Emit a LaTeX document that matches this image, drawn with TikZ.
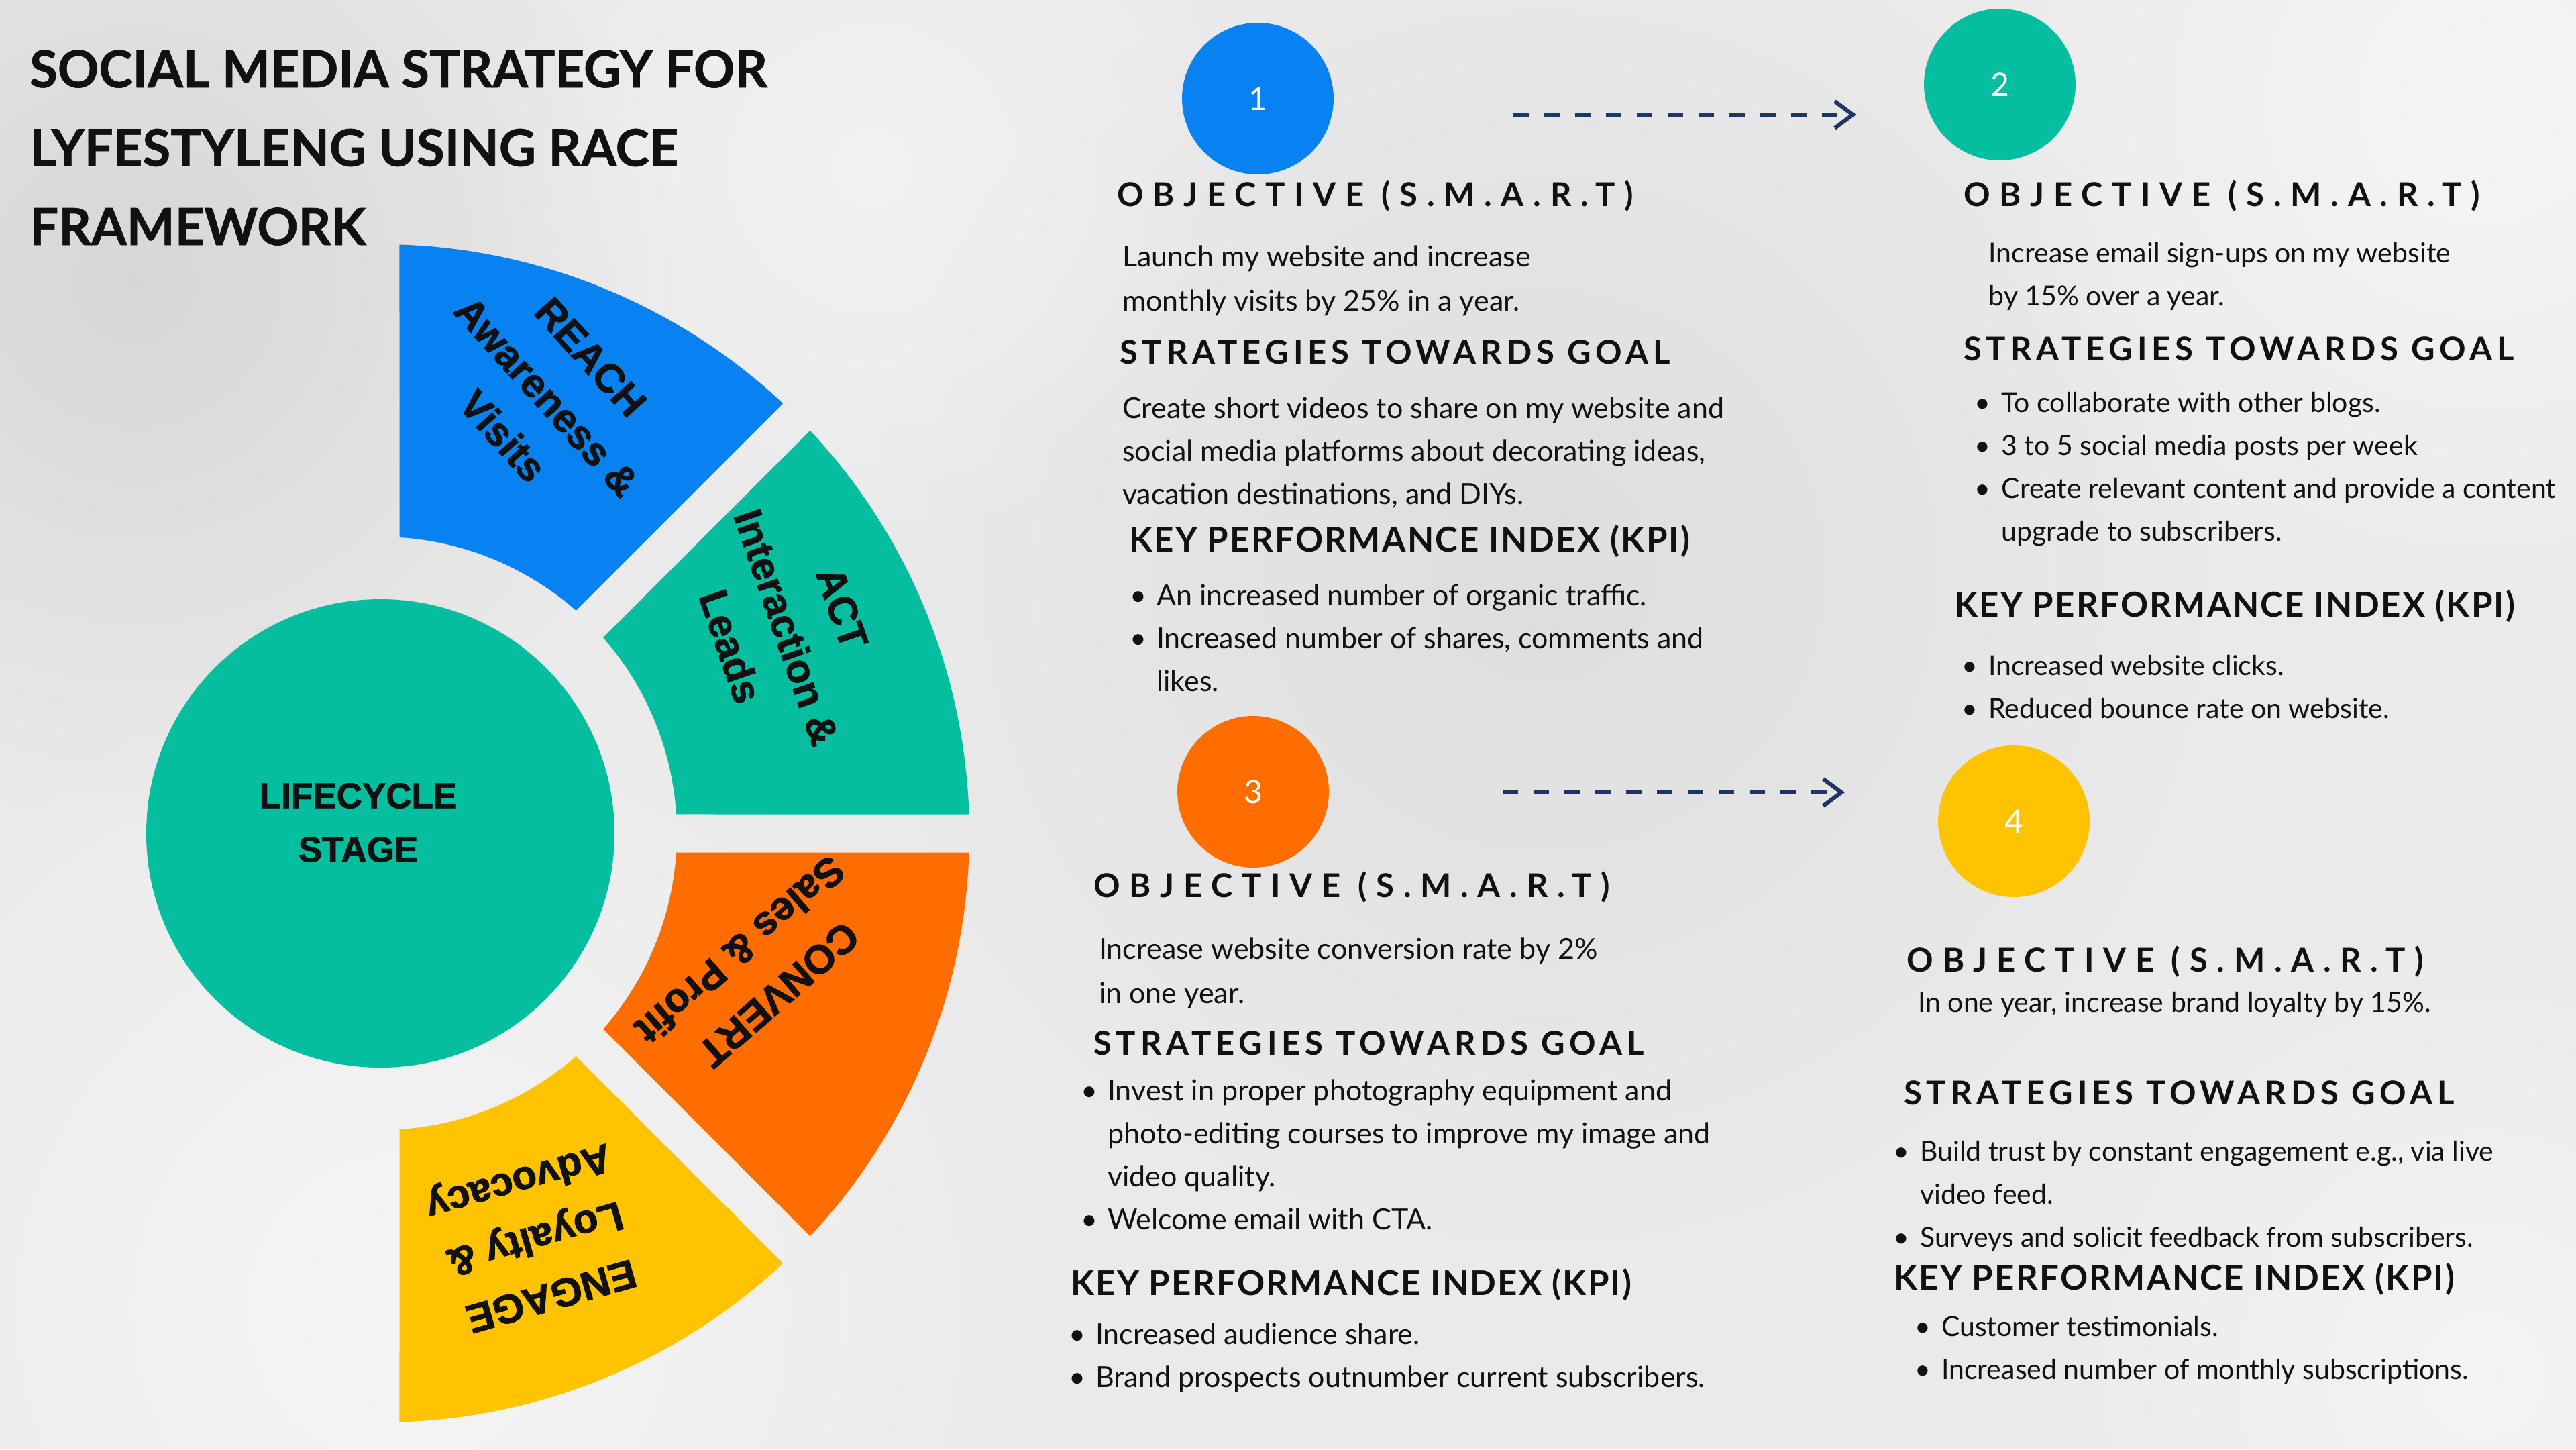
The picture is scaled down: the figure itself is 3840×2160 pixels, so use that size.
\documentclass[tikz,border=0pt]{standalone}
\usepackage{fontspec}
\setmainfont{Lato}
\newfontfamily\heavyfont{Liberation Sans}[BoldFeatures={FakeBold=1.6}]
\newfontfamily\titlefont{Lato}[BoldFeatures={FakeBold=0.8}]
\usetikzlibrary{arrows.meta,fadings}
\tikzfading[name=blobfade, inner color=transparent!0, outer color=transparent!100]
\definecolor{cblue}{RGB}{8,130,240}
\definecolor{cgreen}{RGB}{5,190,160}
\definecolor{corange}{RGB}{255,108,0}
\definecolor{cyellow}{RGB}{255,195,0}
\definecolor{navy}{RGB}{31,53,102}
\definecolor{ink}{RGB}{17,17,17}
\definecolor{bgbase}{RGB}{234,234,234}
\definecolor{bgdark}{RGB}{210,210,210}
\definecolor{bglight}{RGB}{247,247,247}
\newcommand\bitem{\makebox[31pt][l]{\hspace*{-9pt}\textbullet}}
\newcommand\bcont{\hspace*{31pt}}
\tikzset{
  wedgelabel/.style={inner sep=0pt, align=center, text=ink, font=\heavyfont\bfseries\fontsize{60}{88}\selectfont},
  numdisc/.style={circle, minimum size=226pt, inner sep=0pt, text=white, font=\fontsize{48}{48}\selectfont},
  titletext/.style={anchor=base west, inner sep=0pt, align=left, text=ink, font=\titlefont\bfseries\fontsize{76}{117.5}\selectfont},
  objhead/.style={anchor=base west, inner sep=0pt, text=ink, font=\bfseries\fontsize{49}{49}\selectfont\addfontfeature{LetterSpace=28}},
  stghead/.style={anchor=base west, inner sep=0pt, text=ink, font=\bfseries\fontsize{49}{49}\selectfont\addfontfeature{LetterSpace=14}},
  kpihead/.style={anchor=base west, inner sep=0pt, text=ink, font=\bfseries\fontsize{51}{51}\selectfont\addfontfeature{LetterSpace=4.5}},
  objA/.style={anchor=base west, inner sep=0pt, align=left, text=ink, font=\fontsize{43}{66}\selectfont},
  bodyA/.style={anchor=base west, inner sep=0pt, align=left, text=ink, font=\fontsize{43}{64}\selectfont},
  bodyB/.style={anchor=base west, inner sep=0pt, align=left, text=ink, font=\fontsize{41}{64}\selectfont},
  flow/.style={draw=navy, line width=6pt, dash pattern=on 23pt off 23pt, -{Straight Barb[length=27pt,width=40pt]}},
  blob/.style={path fading=blobfade},
}
\begin{document}
\begin{tikzpicture}[x=1pt, y=-1pt]
\useasboundingbox (0,0) rectangle (3840,2160);
% background
\fill[bgbase] (0,0) rectangle (3840,2160);
\fill[bgdark, blob, opacity=0.8] (200,420) circle[radius=800];
\fill[bgdark, blob, opacity=0.5] (2300,850) circle[radius=1000];
\fill[bglight, blob, opacity=0.9] (600,1950) circle[radius=1000];
\fill[bglight, blob, opacity=0.9] (3700,150) circle[radius=800];
\fill[bglight, blob, opacity=0.8] (3700,2050) circle[radius=700];
\fill[bglight, blob, opacity=0.6] (1300,250) circle[radius=600];

% title (anchored at the baseline of its last line)
\node[titletext] (title) at (44,365) {SOCIAL MEDIA STRATEGY FOR\\LYFESTYLENG USING RACE\\FRAMEWORK};

% RACE wheel
\begin{scope}[shift={(567,1242)}, yscale=-1]
  \fill[cblue]   (46.86:878) arc[start angle=46.86, end angle=88.14, radius=878] -- (86.30:442) arc[start angle=86.30, end angle=48.70, radius=442] -- cycle;
  \fill[cgreen]  (1.86:878) arc[start angle=1.86, end angle=43.14, radius=878] -- (41.30:442) arc[start angle=41.30, end angle=3.70, radius=442] -- cycle;
  \fill[corange] (-43.14:878) arc[start angle=-43.14, end angle=-1.86, radius=878] -- (-3.70:442) arc[start angle=-3.70, end angle=-41.30, radius=442] -- cycle;
  \fill[cyellow] (-88.14:878) arc[start angle=-88.14, end angle=-46.86, radius=878] -- (-48.70:442) arc[start angle=-48.70, end angle=-86.30, radius=442] -- cycle;
\end{scope}
\node[circle, fill=cgreen, minimum size=698pt, inner sep=0pt] (life) at (567,1242) {};
\node[inner sep=0pt, align=center, text=ink, font=\heavyfont\bfseries\fontsize{53}{80}\selectfont] (lifetext) at (534,1226) {LIFECYCLE\\STAGE};
\node[wedgelabel, rotate=-48] (reach) at (815,591) {REACH\\Awareness \&\\Visits};
\node[wedgelabel, rotate=-71] (act) at (1172,935) {ACT\\Interaction \&\\Leads};
\node[wedgelabel, rotate=221] (convert) at (1132,1449) {CONVERT\\Sales \& Profit};
\node[wedgelabel, rotate=196] (engage) at (796,1842) {ENGAGE\\Loyalty \&\\Advocacy};

% numbered discs
\node[numdisc, fill=cblue] (n1) at (1875,147) {1};
\node[numdisc, fill=cgreen] (n2) at (2981,126) {2};
\node[numdisc, fill=corange] (n3) at (1868,1180) {3};
\node[numdisc, fill=cyellow] (n4) at (3002,1224) {4};

% dashed arrows
\coordinate (a1s) at (2256,171);
\coordinate (a1e) at (2767,171);
\coordinate (a2s) at (2240,1181);
\coordinate (a2e) at (2750,1181);
\draw[flow] (a1s) -- (a1e);
\draw[flow] (a2s) -- (a2e);

% multi-line text nodes are anchored at the baseline of their last line
% panel 1
\node[objhead] (o1) at (1665,307) {OBJECTIVE (S.M.A.R.T)};
\node[objA] (o1t) at (1673,463) {Launch my website and increase\\monthly visits by 25\% in a year.};
\node[stghead] (s1) at (1669,542) {STRATEGIES TOWARDS GOAL};
\node[bodyA] (s1t) at (1673,751) {Create short videos to share on my website and\\social media platforms about decorating ideas,\\vacation destinations, and DIYs.};
\node[kpihead] (k1) at (1683,822.5) {KEY PERFORMANCE INDEX (KPI)};
\node[bodyA] (k1t) at (1693,1030) {\bitem An increased number of organic traffic.\\\bitem Increased number of shares, comments and\\\bcont likes.};

% panel 2
\node[objhead] (o2) at (2927,307) {OBJECTIVE (S.M.A.R.T)};
\node[bodyB] (o2t) at (2964.5,455) {Increase email sign-ups on my website\\by 15\% over a year.};
\node[stghead] (s2) at (2927,537) {STRATEGIES TOWARDS GOAL};
\node[bodyB] (s2t) at (2952.5,806) {\bitem To collaborate with other blogs.\\\bitem 3 to 5 social media posts per week\\\bitem Create relevant content and provide a content\\\bcont upgrade to subscribers.};
\node[kpihead] (k2) at (2913,919) {KEY PERFORMANCE INDEX (KPI)};
\node[bodyB] (k2t) at (2933,1070) {\bitem Increased website clicks.\\\bitem Reduced bounce rate on website.};

% panel 3
\node[objhead] (o3) at (1630,1337) {OBJECTIVE (S.M.A.R.T)};
\node[objA] (o3t) at (1638,1495) {Increase website conversion rate by 2\%\\in one year.};
\node[stghead] (s3) at (1630,1572) {STRATEGIES TOWARDS GOAL};
\node[bodyA] (s3t) at (1620,1832) {\bitem Invest in proper photography equipment and\\\bcont photo-editing courses to improve my image and\\\bcont video quality.\\\bitem Welcome email with CTA.};
\node[kpihead] (k3) at (1596,1930) {KEY PERFORMANCE INDEX (KPI)};
\node[bodyA] (k3t) at (1602,2067) {\bitem Increased audience share.\\\bitem Brand prospects outnumber current subscribers.};

% panel 4
\node[objhead] (o4) at (2842.5,1448) {OBJECTIVE (S.M.A.R.T)};
\node[bodyB] (o4t) at (2859,1508) {In one year, increase brand loyalty by 15\%.};
\node[stghead] (s4) at (2838,1646) {STRATEGIES TOWARDS GOAL};
\node[bodyB] (s4t) at (2831,1858) {\bitem Build trust by constant engagement e.g., via live\\\bcont video feed.\\\bitem Surveys and solicit feedback from subscribers.};
\node[kpihead] (k4) at (2823,1922) {KEY PERFORMANCE INDEX (KPI)};
\node[bodyB] (k4t) at (2863,2055) {\bitem Customer testimonials.\\\bitem Increased number of monthly subscriptions.};
\end{tikzpicture}
\end{document}
